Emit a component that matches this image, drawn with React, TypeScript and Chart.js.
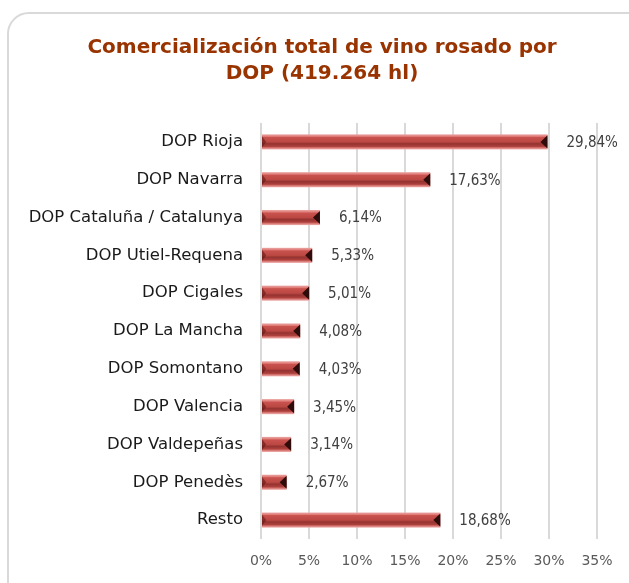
import React, { useEffect, useRef } from "react";
import { Chart, registerables } from "chart.js";

Chart.register(...registerables);

const categories = [
  "DOP Rioja",
  "DOP Navarra",
  "DOP Cataluña / Catalunya",
  "DOP Utiel-Requena",
  "DOP Cigales",
  "DOP La Mancha",
  "DOP Somontano",
  "DOP Valencia",
  "DOP Valdepeñas",
  "DOP Penedès",
  "Resto",
];
const shares = [29.84, 17.63, 6.14, 5.33, 5.01, 4.08, 4.03, 3.45, 3.14, 2.67, 18.68];
const titleLines = ["Comercialización total de vino rosado por", "DOP (419.264 hl)"];
const xMax = 35;
const xStep = 5;

const fmt = (v: number) => v.toFixed(2).replace(".", ",") + "%";

const barDeco = {
  id: "barDeco",
  afterDatasetsDraw(chart: any) {
    const ctx = chart.ctx;
    const meta = chart.getDatasetMeta(0);
    ctx.save();
    meta.data.forEach((el: any, i: number) => {
      const { x, y, base, height } = el.getProps(["x", "y", "base", "height"], true);
      const top = y - height / 2;
      const bot = y + height / 2;
      const left = base;
      const w = x - base;
      const g = ctx.createLinearGradient(0, top, 0, bot);
      g.addColorStop(0, "#eaa8a6");
      g.addColorStop(0.14, "#e07a76");
      g.addColorStop(0.2, "#c9524e");
      g.addColorStop(0.5, "#bc4843");
      g.addColorStop(0.62, "#943331");
      g.addColorStop(0.8, "#ad403c");
      g.addColorStop(0.88, "#d4706c");
      g.addColorStop(1, "#efb3b1");
      ctx.fillStyle = g;
      ctx.fillRect(left, top, w, height);
      const cap = Math.min(7, w / 2);
      ctx.fillStyle = "rgba(90,20,18,0.55)";
      ctx.beginPath();
      ctx.moveTo(left, top + 2);
      ctx.lineTo(left + cap * 0.6, y);
      ctx.lineTo(left, bot - 2);
      ctx.closePath();
      ctx.fill();
      ctx.fillStyle = "#2e0c0b";
      ctx.beginPath();
      ctx.moveTo(x, top + 1);
      ctx.lineTo(x - cap, y);
      ctx.lineTo(x, bot - 1);
      ctx.closePath();
      ctx.fill();
      ctx.fillStyle = "#404040";
      ctx.font = "15px 'DejaVu Sans Condensed', 'DejaVu Sans', sans-serif";
      ctx.textAlign = "left";
      ctx.textBaseline = "middle";
      ctx.fillText(fmt(shares[i]), x + 19, y + 1);
    });
    ctx.restore();
  },
  afterDraw(chart: any) {
    const ctx = chart.ctx;
    ctx.save();
    ctx.fillStyle = "#993300";
    ctx.font = "bold 20px 'DejaVu Sans', sans-serif";
    ctx.textAlign = "center";
    ctx.textBaseline = "middle";
    titleLines.forEach((t, i) => ctx.fillText(t, 322, 48 + i * 26));
    ctx.restore();
  },
};

export default function App() {
  const ref = useRef<HTMLCanvasElement | null>(null);
  useEffect(() => {
    if (!ref.current) return;
    const chart = new Chart(ref.current, {
      type: "bar",
      data: {
        labels: categories,
        datasets: [
          {
            data: shares,
            backgroundColor: "rgba(0,0,0,0)",
            borderWidth: 0,
            categoryPercentage: 1,
            barPercentage: 0.4,
          },
        ],
      },
      options: {
        indexAxis: "y",
        animation: false,
        responsive: true,
        maintainAspectRatio: false,
        layout: { padding: { left: 0, right: 32, top: 123, bottom: 0 } },
        plugins: {
          legend: { display: false },
          tooltip: { enabled: false },
          title: { display: false },
        },
        scales: {
          x: {
            min: 0,
            max: xMax,
            grid: { color: "#d9d9d9", lineWidth: 2, drawTicks: false },
            border: { display: false },
            ticks: {
              stepSize: xStep,
              padding: 14,
              color: "#595959",
              font: { family: "'DejaVu Sans', sans-serif", size: 14 },
              callback: (v: any) => v + "%",
            },
            afterFit: (s: any) => {
              s.height = 44;
            },
          },
          y: {
            grid: { display: false, drawTicks: false },
            border: { display: false },
            ticks: {
              padding: 18,
              color: "#1a1a1a",
              font: { family: "'DejaVu Sans', sans-serif", size: 16.5 },
            },
            afterFit: (s: any) => {
              s.width = 261;
            },
          },
        },
      },
      plugins: [barDeco],
    });
    return () => chart.destroy();
  }, []);

  return (
    <div style={{ position: "fixed", left: 0, top: 0, width: 629, height: 583, background: "#fff", overflow: "hidden" }}>
      <div
        style={{
          position: "absolute",
          left: 7,
          top: 12,
          width: 660,
          height: 620,
          border: "2px solid #d9d9d9",
          borderRadius: 22,
          boxSizing: "border-box",
        }}
      />
      <canvas ref={ref} style={{ position: "absolute", left: 0, top: 0, width: 629, height: 583 }} />
    </div>
  );
}
